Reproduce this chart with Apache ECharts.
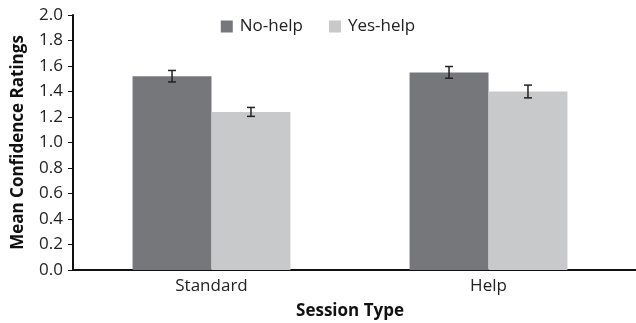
<!DOCTYPE html>
<html>
<head>
<meta charset="utf-8">
<script src="https://cdn.jsdelivr.net/npm/echarts@6/dist/echarts.min.js"></script>
<style>
  html, body { margin: 0; padding: 0; background: #fff; }
  #chart { width: 636px; height: 323px; }
</style>
</head>
<body>
<div id="chart"></div>
<script>
// Session types on the x axis
const categories = ['Standard', 'Help'];
// Mean confidence ratings per group
const noHelp = [1.52, 1.55];
const yesHelp = [1.24, 1.40];
// Standard error (half-length of each error bar)
const noHelpErr = [0.045, 0.046];
const yesHelpErr = [0.035, 0.05];

const FONT = '"Open Sans", "Noto Sans", sans-serif';
const BAR_PCT = 0.285;

// Draws an I-shaped error bar; side = -1 for the left bar, +1 for the right bar
function errorRenderer(side) {
  return function (params, api) {
    const idx = api.value(0);
    const lo = api.value(1), hi = api.value(2);
    const catW = api.size([1, 0])[0];
    const bw = catW * BAR_PCT;
    const x = api.coord([idx, 0])[0] + side * bw / 2;
    const yTop = api.coord([idx, hi])[1];
    const yBot = api.coord([idx, lo])[1];
    const cap = 4;
    const style = { stroke: '#222', lineWidth: 1.5 };
    return {
      type: 'group',
      children: [
        { type: 'line', shape: { x1: x, y1: yTop, x2: x, y2: yBot }, style },
        { type: 'line', shape: { x1: x - cap, y1: yTop, x2: x + cap, y2: yTop }, style },
        { type: 'line', shape: { x1: x - cap, y1: yBot, x2: x + cap, y2: yBot }, style }
      ]
    };
  };
}

const GRID = { left: 73, right: 9, top: 15, bottom: 53 };

const chart = echarts.init(document.getElementById('chart'), null, { renderer: 'canvas' });
chart.setOption({
  animation: false,
  grid: Object.assign({ outerBoundsMode: 'none', containLabel: false }, GRID),
  legend: {
    top: 13,
    left: 'center',
    itemWidth: 12,
    itemHeight: 12,
    itemGap: 26,
    icon: 'rect',
    textStyle: { fontFamily: FONT, fontSize: 17, color: '#222', padding: [0, 0, 0, 2] },
    data: ['No-help', 'Yes-help']
  },
  xAxis: {
    type: 'category',
    data: categories,
    name: 'Session Type',
    nameLocation: 'middle',
    nameGap: 33,
    nameTextStyle: { fontFamily: FONT, fontSize: 17, fontWeight: 'bold', color: '#111' },
    axisLine: { lineStyle: { color: '#111', width: 2 } },
    axisTick: { show: false },
    axisLabel: { fontFamily: FONT, fontSize: 17, color: '#222', margin: 8 }
  },
  yAxis: {
    type: 'value',
    min: 0,
    max: 2,
    interval: 0.2,
    name: 'Mean Confidence Ratings',
    nameLocation: 'middle',
    nameGap: 46,
    nameTextStyle: { fontFamily: FONT, fontSize: 17, fontWeight: 'bold', color: '#111' },
    axisLine: { show: true, lineStyle: { color: '#111', width: 2 } },
    axisTick: { show: true, length: 5, lineStyle: { color: '#111', width: 1 } },
    splitLine: { show: false },
    axisLabel: {
      fontFamily: FONT, fontSize: 17, color: '#222', margin: 10,
      formatter: v => v.toFixed(1)
    }
  },
  series: [
    {
      name: 'No-help',
      type: 'bar',
      data: noHelp,
      barWidth: (BAR_PCT * 100) + '%',
      barGap: '0%',
      itemStyle: { color: '#76777b' }
    },
    {
      name: 'Yes-help',
      type: 'bar',
      data: yesHelp,
      barWidth: (BAR_PCT * 100) + '%',
      itemStyle: { color: '#c8c9cb' }
    },
    {
      type: 'custom',
      renderItem: errorRenderer(-1),
      data: noHelp.map((v, i) => [i, v - noHelpErr[i], v + noHelpErr[i]]),
      z: 10
    },
    {
      type: 'custom',
      renderItem: errorRenderer(1),
      data: yesHelp.map((v, i) => [i, v - yesHelpErr[i], v + yesHelpErr[i]]),
      z: 10
    }
  ]
});

// The baseline runs on to the right edge of the canvas
const base = chart.convertToPixel({ gridIndex: 0 }, [1, 0]);
const gridRight = 636 - GRID.right;
chart.setOption({
  graphic: [{
    type: 'line',
    shape: { x1: gridRight - 1, y1: base[1], x2: 636, y2: base[1] },
    style: { stroke: '#111', lineWidth: 2 },
    z: 5
  }]
});
</script>
</body>
</html>
